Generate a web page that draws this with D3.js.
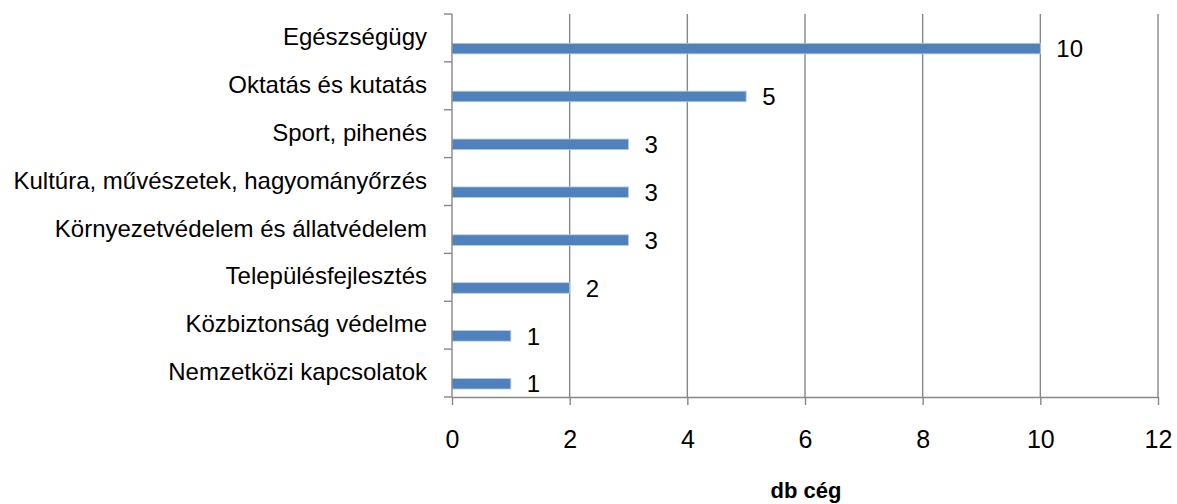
<!DOCTYPE html>
<html>
<head>
<meta charset="utf-8">
<script src="https://cdn.jsdelivr.net/npm/d3@7"></script>
<style>
  body { margin: 0; background: #fff; }
  text { font-family: "Liberation Sans", Arial, sans-serif; fill: #000; }
</style>
</head>
<body>
<svg class="chart"></svg>
<script>
const size = {w: 1177, h: 504};
const plot = {left: 452, right: 1158, top: 14, bottom: 397};

// categories top to bottom and their counts
const categories = [
    'Egészségügy',
    'Oktatás és kutatás',
    'Sport, pihenés',
    'Kultúra, művészetek, hagyományőrzés',
    'Környezetvédelem és állatvédelem',
    'Településfejlesztés',
    'Közbiztonság védelme',
    'Nemzetközi kapcsolatok'
];
const counts = [10, 5, 3, 3, 3, 2, 1, 1];
const xTicks = [0, 2, 4, 6, 8, 10, 12];
const axisTitle = 'db cég';

const svg = d3.select('svg.chart')
    .attr('width', size.w)
    .attr('height', size.h);

const x = d3.scaleLinear()
    .domain([0, 12])
    .range([plot.left, plot.right]);

const y = d3.scaleBand()
    .domain(categories)
    .range([plot.top, plot.bottom])
    .padding(0);

const barH = 10.6;
const barOffset = 29.3;   // bars sit in lower part of each band
const gray = '#878787';

// vertical gridlines
svg.append('g').selectAll('line')
    .data(xTicks.filter(d => d > 0))
    .join('line')
    .attr('x1', d => x(d)).attr('x2', d => x(d))
    .attr('y1', plot.top).attr('y2', plot.bottom)
    .attr('stroke', gray)
    .attr('stroke-width', 1.4);

// bars
const data = categories.map((c, i) => ({cat: c, val: counts[i]}));
svg.append('g').selectAll('rect')
    .data(data)
    .join('rect')
    .attr('x', x(0))
    .attr('y', d => y(d.cat) + barOffset)
    .attr('width', d => x(d.val) - x(0))
    .attr('height', barH)
    .attr('fill', '#4f81bd')
    .attr('stroke', '#b9cde5')
    .attr('stroke-width', 0.8);

// value labels
svg.append('g').selectAll('text')
    .data(data)
    .join('text')
    .attr('x', d => x(d.val) + 16)
    .attr('y', d => y(d.cat) + barOffset + barH / 2 + 8.7)
    .attr('font-size', 24)
    .text(d => d.val);

// x axis
const xAxis = svg.append('g')
    .attr('transform', `translate(0,${plot.bottom})`)
    .call(d3.axisBottom(x).tickValues(xTicks).tickSize(8).tickSizeOuter(0));
xAxis.select('.domain').attr('stroke', gray).attr('stroke-width', 1.4);
xAxis.selectAll('.tick line').attr('stroke', gray).attr('stroke-width', 1.4);
xAxis.selectAll('.tick text')
    .attr('y', 51)
    .attr('dy', null)
    .attr('font-size', 25)
    .attr('font-family', '"Liberation Sans", Arial, sans-serif')
    .attr('fill', '#000');

// y axis line and band-boundary ticks
const bounds = categories.map(c => y(c)).concat([plot.bottom]);
svg.append('line')
    .attr('x1', plot.left).attr('x2', plot.left)
    .attr('y1', plot.top).attr('y2', plot.bottom)
    .attr('stroke', gray).attr('stroke-width', 1.4);
svg.append('g').selectAll('line')
    .data(bounds)
    .join('line')
    .attr('x1', plot.left - 8).attr('x2', plot.left)
    .attr('y1', d => d).attr('y2', d => d)
    .attr('stroke', gray).attr('stroke-width', 1.4);

// category labels
svg.append('g').selectAll('text')
    .data(categories)
    .join('text')
    .attr('x', 427)
    .attr('y', d => y(d) + 31)
    .attr('text-anchor', 'end')
    .attr('font-size', 24)
    .text(d => d);

// axis title
svg.append('text')
    .attr('x', 806)
    .attr('y', 498)
    .attr('text-anchor', 'middle')
    .attr('font-size', 22)
    .attr('font-weight', 'bold')
    .text(axisTitle);
</script>
</body>
</html>
